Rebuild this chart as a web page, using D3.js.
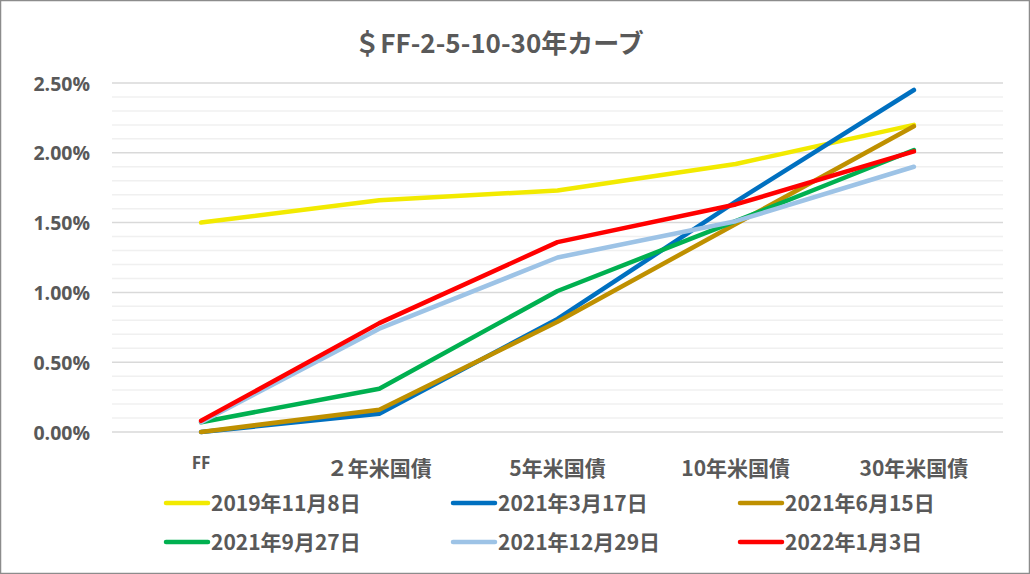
<!DOCTYPE html>
<html>
<head>
<meta charset="utf-8">
<script src="https://cdn.jsdelivr.net/npm/d3@7"></script>
<style>
  body { margin: 0; background: #fff; }
  text { font-family: "Noto Sans CJK JP", "Open Sans", sans-serif; fill: #595959; }
</style>
</head>
<body>
<div id="chart"></div>
<script>
// Categories (maturities)
const categories = ["FF", "２年米国債", "5年米国債", "10年米国債", "30年米国債"];

// Series, values in percent
const seriesNames = ["2019年11月8日", "2021年3月17日", "2021年6月15日", "2021年9月27日", "2021年12月29日", "2022年1月3日"];
const s20191108 = [1.50, 1.66, 1.73, 1.92, 2.20];
const s20210317 = [0.00, 0.13, 0.81, 1.65, 2.45];
const s20210615 = [0.00, 0.16, 0.79, 1.49, 2.19];
const s20210927 = [0.07, 0.31, 1.01, 1.51, 2.02];
const s20211229 = [0.07, 0.74, 1.25, 1.51, 1.90];
const s20220103 = [0.08, 0.78, 1.36, 1.63, 2.01];
const seriesValues = [s20191108, s20210317, s20210615, s20210927, s20211229, s20220103];
const seriesColors = ["#F2EA00", "#0070C0", "#BF9000", "#00B050", "#9DC3E6", "#FF0000"];

const yTicks = [0, 0.5, 1.0, 1.5, 2.0, 2.5];

const config = {
  width: 1030,
  height: 574,
  plot: { left: 112, right: 1003, top: 83, bottom: 432 },
};

const svg = d3.select("#chart")
  .append("svg")
  .attr("width", config.width)
  .attr("height", config.height);

// Chart border
svg.append("rect")
  .attr("x", 0.5).attr("y", 0.5)
  .attr("width", config.width - 1).attr("height", config.height - 1)
  .attr("fill", "#fff")
  .attr("stroke", "#8c8c8c")
  .attr("stroke-width", 1.5);

// Title
svg.append("text")
  .attr("x", 499)
  .attr("y", 53)
  .attr("text-anchor", "middle")
  .style("font-size", "26px")
  .style("font-weight", "bold")
  .text("＄FF-2-5-10-30年カーブ");

const x = d3.scaleBand()
  .domain(categories)
  .range([config.plot.left, config.plot.right]);

const y = d3.scaleLinear()
  .domain([0, 2.5])
  .range([config.plot.bottom, config.plot.top]);

// Minor gridlines every 0.1%
const minor = d3.range(0, 25).map((d) => d / 10).filter((d) => Math.round(d * 10) % 5 !== 0);
svg.append("g")
  .selectAll("line")
  .data(minor)
  .join("line")
  .attr("x1", config.plot.left)
  .attr("x2", config.plot.right)
  .attr("y1", (d) => y(d))
  .attr("y2", (d) => y(d))
  .attr("stroke", "#f0f0f0")
  .attr("stroke-width", 1.5);

// Major gridlines
svg.append("g")
  .selectAll("line")
  .data(yTicks)
  .join("line")
  .attr("x1", config.plot.left)
  .attr("x2", config.plot.right)
  .attr("y1", (d) => y(d))
  .attr("y2", (d) => y(d))
  .attr("stroke", "#d9d9d9")
  .attr("stroke-width", 1.5);

// Y axis labels
const yAxis = d3.axisLeft(y)
  .tickValues(yTicks)
  .tickSize(0)
  .tickPadding(0)
  .tickFormat((d) => d.toFixed(2) + "%");

const yAxisG = svg.append("g")
  .attr("transform", `translate(90, 0)`)
  .call(yAxis);
yAxisG.select(".domain").remove();
yAxisG.selectAll("text")
  .style("font-family", "'Open Sans', sans-serif")
  .style("font-size", "19.5px")
  .style("font-weight", "bold")
  .style("fill", "#595959")
  .attr("dy", "0.36em");

// X axis labels
svg.append("g")
  .selectAll("text")
  .data(categories)
  .join("text")
  .attr("x", (d) => x(d) + x.bandwidth() / 2)
  .attr("y", (d, i) => (i === 0 ? 469 : 476))
  .attr("text-anchor", "middle")
  .style("font-family", (d, i) => (i === 0 ? "'Open Sans', sans-serif" : null))
  .style("font-size", (d, i) => (i === 0 ? "17px" : "21px"))
  .style("font-weight", "bold")
  .text((d) => d);

// Lines
const line = d3.line()
  .x((d, i) => x(categories[i]) + x.bandwidth() / 2)
  .y((d) => y(d));

svg.append("g")
  .selectAll("path")
  .data(seriesValues)
  .join("path")
  .attr("d", (d) => line(d))
  .attr("fill", "none")
  .attr("stroke", (d, i) => seriesColors[i])
  .attr("stroke-width", 4.5)
  .attr("stroke-linecap", "round")
  .attr("stroke-linejoin", "round");

// Legend
const legendCols = [166, 453, 740];
const legendRows = [503, 542];
const legend = svg.append("g")
  .selectAll("g")
  .data(seriesNames)
  .join("g")
  .attr("transform", (d, i) => `translate(${legendCols[i % 3]}, ${legendRows[Math.floor(i / 3)]})`);

legend.append("line")
  .attr("x1", 0).attr("x2", 42)
  .attr("y1", 0).attr("y2", 0)
  .attr("stroke", (d, i) => seriesColors[i])
  .attr("stroke-width", 4.5)
  .attr("stroke-linecap", "round");

legend.append("text")
  .attr("x", 45)
  .attr("y", 0)
  .attr("dy", "0.36em")
  .style("font-size", "21px")
  .style("font-weight", "bold")
  .text((d) => d);
</script>
</body>
</html>
